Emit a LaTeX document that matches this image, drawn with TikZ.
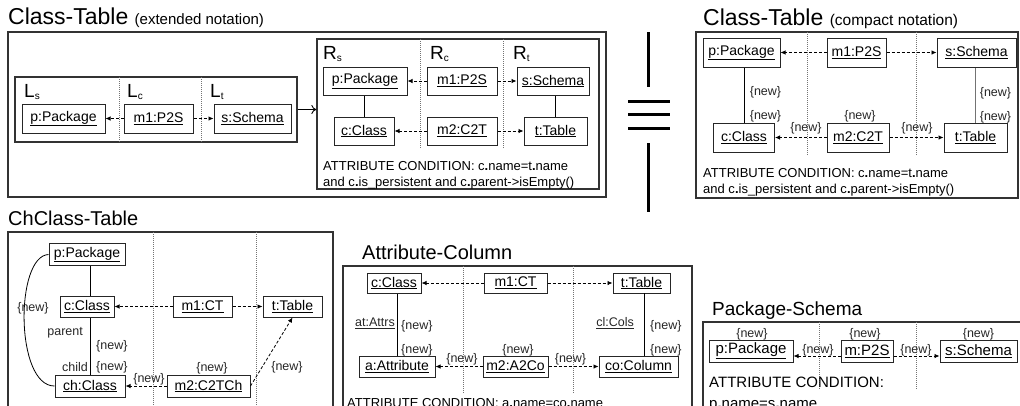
\documentclass[tikz,border=0pt]{standalone}
\usepackage{fontspec}
\setmainfont{Liberation Sans}
\usetikzlibrary{arrows.meta}
\newcommand\mylab[2]{{\fontsize{19}{20}\selectfont #1}\raisebox{-2.5pt}{\fontsize{10}{10}\selectfont #2}}
\tikzset{
 frame/.style={draw=black!80, line width=1.3pt, inner sep=0pt},
 obj/.style={draw=black!85, line width=1pt, inner sep=0pt, font=\fontsize{14}{16}\selectfont},
 objp/.style={obj, font=\fontsize{15}{17}\selectfont},
 lnk/.style={-{Latex[length=5pt,width=4.5pt]}, dash pattern=on 3pt off 2pt, line width=0.8pt},
 div/.style={draw=black!55, line width=0.7pt, dash pattern=on 1pt off 1pt},
 nw/.style={font=\fontsize{12.5}{13}\selectfont, inner sep=0pt, text=black!85},
 cond/.style={font=\fontsize{13}{16}\selectfont, inner sep=0pt, anchor=base west, align=left},
 ttl/.style={font=\fontsize{20}{22}\selectfont, inner sep=0pt, anchor=base west},
 bigttl/.style={font=\fontsize{23}{25}\selectfont, inner sep=0pt, anchor=base west},
 eqbar/.style={line width=3pt},
 assoc/.style={line width=0.8pt},
 lbl/.style={inner sep=0pt, anchor=base west}
}
\begin{document}
\begin{tikzpicture}[x=1pt,y=-1pt]
\useasboundingbox (0,0) rectangle (1020,405);
% ===== Class-Table extended =====
\node[bigttl] (t1) at (8,24) {Class-Table {\fontsize{15}{17}\selectfont (extended notation)}};
\draw[frame] (8,32) rectangle (606,197);
\node[frame, minimum width=282, minimum height=65] (Lbox) at (156,109.5) {};
\node[frame, minimum width=282, minimum height=150] (Rbox) at (458,114) {};
\draw[div] (119,77) -- (119,142);
\draw[div] (201,77) -- (201,142);
\node[lbl] (ls1) at (24,97) {\mylab{L}{s}};
\node[lbl] (lc1) at (127,97) {\mylab{L}{c}};
\node[lbl] (lt1) at (210,97) {\mylab{L}{t}};
\node[obj, minimum width=83, minimum height=29] (lp) at (63.5,118.5) {\underline{p:Package}};
\node[obj, minimum width=69, minimum height=29] (lm) at (158.5,118.5) {\underline{m1:P2S}};
\node[obj, minimum width=77, minimum height=29] (ls) at (252.5,118.5) {\underline{s:Schema}};
\draw[lnk] (lm.west) -- (lp.east);
\draw[lnk] (lm.east) -- (ls.west);
\draw[-{To[length=5pt,width=9pt]}, line width=0.9pt] (Lbox.east) -- (Lbox.east -| Rbox.west);
\draw[div] (420,39) -- (420,148);
\draw[div] (503,39) -- (503,148);
\node[lbl] (rs1) at (323,59) {\mylab{R}{s}};
\node[lbl] (rc1) at (430,59) {\mylab{R}{c}};
\node[lbl] (rt1) at (513,59) {\mylab{R}{t}};
\node[obj, minimum width=84, minimum height=28] (rp) at (365,81) {\underline{p:Package}};
\node[obj, minimum width=70, minimum height=28] (rm1) at (462,81) {\underline{m1:P2S}};
\node[obj, minimum width=72, minimum height=28] (rs) at (553,81) {\underline{s:Schema}};
\node[obj, minimum width=60, minimum height=28] (rc) at (364,131) {\underline{c:Class}};
\node[obj, minimum width=70, minimum height=28] (rm2) at (462,131) {\underline{m2:C2T}};
\node[obj, minimum width=63, minimum height=28] (rt) at (555.5,131) {\underline{t:Table}};
\draw[assoc] (rc.north) -- (rc.north |- rp.south);
\draw[assoc] (rt.north) -- (rt.north |- rs.south);
\draw[lnk] (rm1.west) -- (rp.east);
\draw[lnk] (rm1.east) -- (rs.west);
\draw[lnk] (rm2.west) -- (rc.east);
\draw[lnk] (rm2.east) -- (rt.west);
\node[cond] (rcond) at (323,186) {ATTRIBUTE CONDITION: c\textbf{.}name=t\textbf{.}name\\and c\textbf{.}is\_persistent and c\textbf{.}parent->isEmpty()};
% ===== equals =====
\draw[eqbar] (648,32) -- (648,87);
\draw[eqbar] (648,143) -- (648,212);
\draw[eqbar] (628,101) -- (670,101);
\draw[eqbar] (628,114) -- (670,114);
\draw[eqbar] (628,128) -- (670,128);
% ===== Class-Table compact =====
\node[bigttl] (t2) at (703,25) {Class-Table {\fontsize{15.5}{17}\selectfont (compact notation)}};
\draw[frame] (696,32) rectangle (1018,198);
\draw[div] (807,32) -- (807,155);
\draw[div] (916,32) -- (916,155);
\node[obj, minimum width=77, minimum height=29] (cp) at (741.5,52.5) {\underline{p:Package}};
\node[obj, minimum width=59, minimum height=29] (cm1) at (856.5,52.5) {\underline{m1:P2S}};
\node[obj, minimum width=79, minimum height=29] (cs) at (976.5,52.5) {\underline{s:Schema}};
\node[obj, minimum width=61, minimum height=29] (cc) at (744,137.5) {\underline{c:Class}};
\node[obj, minimum width=62, minimum height=29] (cm2) at (858,137.5) {\underline{m2:C2T}};
\node[obj, minimum width=63, minimum height=29] (ct) at (975.5,137.5) {\underline{t:Table}};
\draw[assoc] (cc.north) -- (cc.north |- cp.south);
\draw[line width=1.5pt, black!55] (ct.north) -- (ct.north |- cs.south);
\draw[lnk] (cm1.west) -- (cp.east);
\draw[lnk] (cm1.east) -- (cs.west);
\draw[lnk] (cm2.west) -- (cc.east);
\draw[lnk] (cm2.east) -- (ct.west);
\node[nw] (cn1) at (765.5,92) {\{new\}};
\node[nw] (cn2) at (765.5,116) {\{new\}};
\node[nw] (cn3) at (995.5,93) {\{new\}};
\node[nw] (cn4) at (995.5,117) {\{new\}};
\node[nw] (cn5) at (860,116) {\{new\}};
\node[nw] (cn6) at (806,128) {\{new\}};
\node[nw] (cn7) at (917,128) {\{new\}};
\node[cond] (ccond) at (703,193) {ATTRIBUTE CONDITION: c\textbf{.}name=t\textbf{.}name\\and c\textbf{.}is\_persistent and c\textbf{.}parent->isEmpty()};
% ===== ChClass-Table =====
\node[ttl] (t3) at (8,225) {ChClass-Table};
\draw[frame] (8,420) -- (8,232) -- (333,232) -- (333,420);
\draw[div] (153,232) -- (153,410);
\draw[div] (256,232) -- (256,410);
\node[obj, minimum width=76, minimum height=22] (bp) at (87,254.5) {\underline{p:Package}};
\node[obj, minimum width=54, minimum height=21] (bc) at (87,306.5) {\underline{c:Class}};
\node[obj, minimum width=59, minimum height=21] (bm1) at (202.5,306.5) {\underline{m1:CT}};
\node[obj, minimum width=59, minimum height=21] (bt) at (292.5,306.5) {\underline{t:Table}};
\node[obj, minimum width=70, minimum height=22] (bch) at (90,386) {\underline{ch:Class}};
\node[obj, minimum width=83, minimum height=22] (bm2) at (208.5,386) {\underline{m2:C2TCh}};
\draw[assoc] (bp.south -| bch.north) -- (bc.north -| bch.north);
\draw[assoc] (bc.south -| bch.north) -- (bch.north);
\draw[assoc] (bp.west) .. controls (15,256) and (15,386) .. (bch.west);
\draw[lnk] (bm1.west) -- (bc.east);
\draw[lnk] (bm1.east) -- (bt.west);
\draw[lnk] (bm2.west) -- (bch.east);
\draw[lnk] (bm2.east) -- (bt.south);
\node[nw] (bn1) at (33,308) {\{new\}};
\node[nw, anchor=east] (bpar) at (83,333) {parent};
\node[nw, anchor=west] (bn2) at (96,346) {\{new\}};
\node[nw, anchor=east] (bchi) at (88,367) {child};
\node[nw, anchor=west] (bn3) at (96,367) {\{new\}};
\node[nw] (bn4) at (212,368) {\{new\}};
\node[nw] (bn5) at (149,379) {\{new\}};
\node[nw] (bn6) at (287,367) {\{new\}};
% ===== Attribute-Column =====
\node[ttl] (t4) at (362,259) {Attribute-Column};
\draw[frame] (343,420) -- (343,266) -- (692,266) -- (692,420);
\draw[div] (463,266) -- (463,393);
\draw[div] (573,266) -- (573,393);
\node[obj, minimum width=54, minimum height=20] (ac) at (394,283) {\underline{c:Class}};
\node[obj, minimum width=63, minimum height=20] (am1) at (515.5,283) {\underline{m1:CT}};
\node[obj, minimum width=57, minimum height=20] (at) at (641.5,283) {\underline{t:Table}};
\node[obj, minimum width=76, minimum height=21] (aa) at (397,366.5) {\underline{a:Attribute}};
\node[obj, minimum width=65, minimum height=21] (am2) at (515.5,366.5) {\underline{m2:A2Co}};
\node[obj, minimum width=79, minimum height=21] (aco) at (638.5,366.5) {\underline{co:Column}};
\draw[assoc] (aa.north) -- (aa.north |- ac.south);
\draw[assoc] (644,293) -- (644,356);
\draw[lnk] (am1.west) -- (ac.east);
\draw[lnk] (am1.east) -- (at.west);
\draw[lnk] (am2.west) -- (aa.east);
\draw[lnk] (am2.east) -- (aco.west);
\node[nw, anchor=east] (aat) at (395,323) {\underline{at:Attrs}};
\node[nw, anchor=west] (an1) at (401,326) {\{new\}};
\node[nw, anchor=west] (an2) at (401,350) {\{new\}};
\node[nw, anchor=east] (acl) at (634,323) {\underline{cl:Cols}};
\node[nw, anchor=west] (an3) at (650,326) {\{new\}};
\node[nw, anchor=west] (an4) at (650,350) {\{new\}};
\node[nw] (an5) at (518,350) {\{new\}};
\node[nw] (an6) at (462,359) {\{new\}};
\node[nw] (an7) at (570.5,359) {\{new\}};
\node[cond] (acond) at (347,407) {ATTRIBUTE CONDITION: a\textbf{.}name=co\textbf{.}name};
% ===== Package-Schema =====
\node[ttl, font=\fontsize{19}{21}\selectfont] (t5) at (712,315) {Package-Schema};
\draw[frame] (703,420) -- (703,322) -- (1030,322);
\draw[div] (819,322) -- (819,390);
\draw[div] (916,322) -- (916,390);
\node[objp, minimum width=84, minimum height=22] (pp) at (751,351) {\underline{p:Package}};
\node[objp, minimum width=52, minimum height=22] (pm) at (867,351) {\underline{m:P2S}};
\node[objp, minimum width=77, minimum height=22] (ps) at (978.5,351) {\underline{s:Schema}};
\draw[lnk] ([yshift=-5pt]pm.west) -- ([yshift=-5pt]pp.east);
\draw[lnk] ([yshift=-5pt]pm.east) -- ([yshift=-5pt]ps.west);
\node[nw] (pn1) at (752,334) {\{new\}};
\node[nw] (pn2) at (865,334) {\{new\}};
\node[nw] (pn3) at (978.5,334) {\{new\}};
\node[nw] (pn4) at (818,350) {\{new\}};
\node[nw] (pn5) at (916,350) {\{new\}};
\node[cond, font=\fontsize{15}{21}\selectfont] (pcond) at (709,408) {ATTRIBUTE CONDITION:\\p\textbf{.}name=s\textbf{.}name};
\end{tikzpicture}
\end{document}
